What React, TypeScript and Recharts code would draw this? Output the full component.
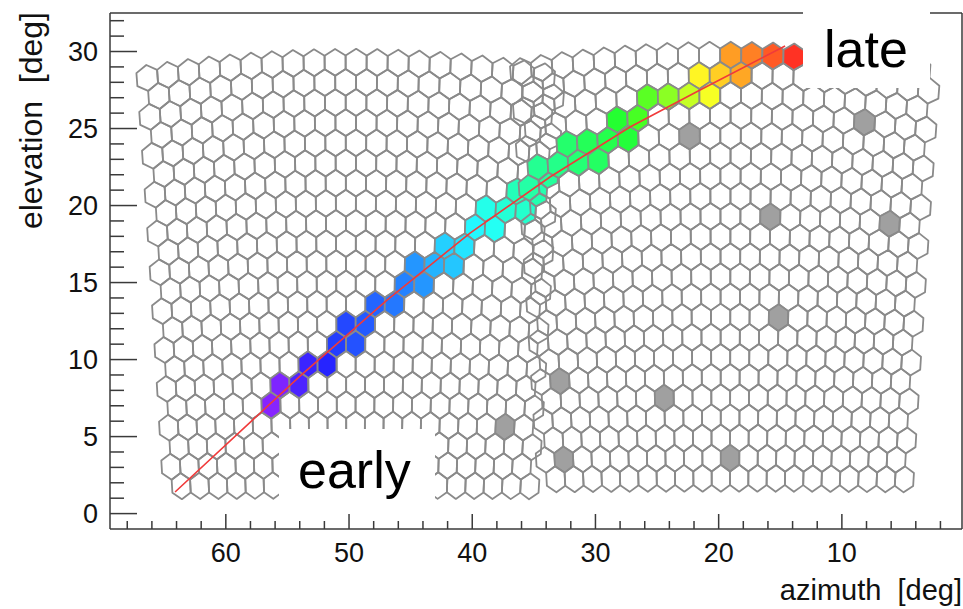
import React from "react";
import { ScatterChart, Scatter, XAxis, YAxis } from "recharts";

// camera pointing [deg] (left bay, right bay)
const cameraAz = [49.85, 19.45];
const cameraEl = [15.57, 16.03];
const cameraRows = 22;
const cameraCols = 20;
const colPitch = 1.53;
const rowPitch = 1.308;

// pixels on the track: [row, col, time]
const leftHits = [
  [17, 5, 1], [16, 6, 2], [16, 7, 7], [15, 7, 9], [15, 8, 11],
  [14, 9, 14], [14, 10, 16], [13, 9, 15], [13, 10, 17],
  [12, 11, 18], [12, 12, 20], [11, 12, 21], [11, 13, 23],
  [10, 13, 23], [10, 14, 26], [10, 15, 28], [9, 14, 29], [9, 15, 31],
  [8, 16, 33], [8, 17, 35], [7, 16, 36], [7, 17, 38], [7, 18, 39],
  [6, 18, 41], [6, 19, 42], [5, 19, 44],
];
const rightHits = [
  [6, 0, 43], [5, 0, 45], [5, 1, 46], [5, 2, 48], [5, 3, 50],
  [4, 2, 49], [4, 3, 51], [4, 4, 52], [4, 5, 54], [3, 4, 55], [3, 5, 60],
  [2, 6, 62], [2, 7, 67], [2, 8, 73], [2, 9, 78],
  [1, 8, 80], [1, 9, 84], [1, 10, 88],
  [0, 10, 89], [0, 11, 92], [0, 12, 96], [0, 13, 100],
];
// isolated pixels off the track: [row, col]
const leftNoise = [[18, 18]];
const rightNoise = [[16, 1], [20, 1], [17, 6], [4, 8], [20, 10], [8, 12], [13, 12], [3, 16], [8, 18]];

// fitted track
const trackAz = [64.12, 53.98, 46.92, 40.18, 33.69, 27.19, 21.51, 14.61];
const trackEl = [1.4, 8.93, 13.86, 18.21, 21.85, 25.1, 27.5, 30.36];

const azTicks = [2, 4, 6, 8, 10, 12, 14, 16, 18, 20, 22, 24, 26, 28, 30, 32, 34, 36, 38, 40, 42, 44, 46, 48, 50, 52, 54, 56, 58, 60, 62, 64, 66, 68];
const elTicks = [0, 1, 2, 3, 4, 5, 6, 7, 8, 9, 10, 11, 12, 13, 14, 15, 16, 17, 18, 19, 20, 21, 22, 23, 24, 25, 26, 27, 28, 29, 30, 31, 32];

const W = 963;
const H = 609;
const PLOT = { left: 110, top: 13, right: 962, bottom: 529 };
const AZ_MIN = 0.25;
const AZ_MAX = 69.4;
const EL_MIN = -1;
const EL_MAX = 32.5;
const PX_AZ = (PLOT.right - PLOT.left) / (AZ_MAX - AZ_MIN);
const PX_EL = (PLOT.bottom - PLOT.top) / (EL_MAX - EL_MIN);

const FONT = '"Liberation Sans", Arial, Helvetica, sans-serif';
const AXIS = "#3a3a3a";
const EDGE = "#8a8a8a";
const NOISE = "#a0a0a0";
const T_MAX = 100;
const timeColor = (t: number) => `hsl(${(270 - (t / T_MAX) * 266).toFixed(1)}, 100%, 57%)`;

const RAD = Math.PI / 180;
// camera tangent-plane angles (a to the left, b up) -> sky az/el
function toSky(az0: number, el0: number, a: number, b: number) {
  const ta = Math.tan(a * RAD);
  const tb = Math.tan(b * RAD);
  const ce = Math.cos(el0 * RAD);
  const se = Math.sin(el0 * RAD);
  const n = Math.sqrt(1 + ta * ta + tb * tb);
  return {
    az: az0 + Math.atan2(ta, ce - tb * se) / RAD,
    el: Math.asin((se + tb * ce) / n) / RAD,
  };
}

const HEX = [[0, 2 / 3], [0.5, 1 / 3], [0.5, -1 / 3], [0, -2 / 3], [-0.5, -1 / 3], [-0.5, 1 / 3]];

function buildCamera(cam: number, hits: number[][], noise: number[][]) {
  const hitTime = new Map(hits.map(([r, c, t]) => [`${r}-${c}`, t]));
  const noiseSet = new Set(noise.map(([r, c]) => `${r}-${c}`));
  const cells = [];
  for (let r = 0; r < cameraRows; r++) {
    for (let c = 0; c < cameraCols; c++) {
      const b = ((cameraRows - 1) / 2 - r) * rowPitch;
      const a = ((cameraCols - 1) / 2 - c) * colPitch + (r % 2 === 0 ? colPitch / 4 : -colPitch / 4);
      const p = toSky(cameraAz[cam], cameraEl[cam], a, b);
      const verts = HEX.map(([u, v]) => {
        const q = toSky(cameraAz[cam], cameraEl[cam], a + u * colPitch, b + v * rowPitch);
        return [q.az - p.az, q.el - p.el];
      });
      const key = `${r}-${c}`;
      const fill = hitTime.has(key) ? timeColor(hitTime.get(key) as number) : noiseSet.has(key) ? NOISE : "none";
      cells.push({ az: p.az, el: p.el, verts, fill });
    }
  }
  return cells;
}

const leftCells = buildCamera(0, leftHits, leftNoise);
const rightCells = buildCamera(1, rightHits, rightNoise);
const trackPoints = trackAz.map((az, i) => ({ az, el: trackEl[i] }));

const HexShape = (props: any) => {
  const { cx, cy, payload } = props;
  if (cx == null || cy == null) return <g />;
  const pts = payload.verts
    .map(([da, de]: number[]) => `${(cx - da * PX_AZ).toFixed(2)},${(cy - de * PX_EL).toFixed(2)}`)
    .join(" ");
  return <polygon points={pts} fill={payload.fill} stroke={EDGE} strokeWidth={1.8} strokeLinejoin="round" />;
};

const AzTick = (props: any) => {
  const { x, y, payload } = props;
  const major = payload.value % 10 === 0;
  return (
    <g>
      <line x1={x} x2={x} y1={y} y2={y - (major ? 15 : 8)} stroke={AXIS} strokeWidth={1.5} />
      {major && (
        <text x={x} y={y + 33} textAnchor="middle" fontSize={27} fontFamily={FONT} fill="#111">
          {payload.value}
        </text>
      )}
    </g>
  );
};

const ElTick = (props: any) => {
  const { x, y, payload } = props;
  const major = payload.value % 5 === 0;
  return (
    <g>
      <line x1={x} x2={x + (major ? 27 : 14)} y1={y} y2={y} stroke={AXIS} strokeWidth={1.5} />
      {major && (
        <text x={x - 12} y={y + 9.5} textAnchor="end" fontSize={27} fontFamily={FONT} fill="#111">
          {payload.value}
        </text>
      )}
    </g>
  );
};

export default function App() {
  return (
    <div style={{ position: "absolute", left: 0, top: 0, width: W, height: H, background: "#fff" }}>
      <ScatterChart width={W} height={H} margin={{ top: PLOT.top, right: W - PLOT.right, bottom: 0, left: 0 }}>
        <XAxis
          type="number"
          dataKey="az"
          domain={[AZ_MIN, AZ_MAX]}
          allowDataOverflow
          reversed
          ticks={azTicks}
          interval={0}
          height={H - PLOT.bottom}
          tickSize={0}
          tickMargin={0}
          tickLine={false}
          axisLine={{ stroke: AXIS, strokeWidth: 1.5 }}
          tick={<AzTick />}
        />
        <YAxis
          type="number"
          dataKey="el"
          domain={[EL_MIN, EL_MAX]}
          allowDataOverflow
          ticks={elTicks}
          interval={0}
          width={PLOT.left}
          tickSize={0}
          tickMargin={0}
          tickLine={false}
          axisLine={{ stroke: AXIS, strokeWidth: 1.5 }}
          tick={<ElTick />}
        />
        <Scatter data={leftCells} shape={HexShape} isAnimationActive={false} />
        <Scatter data={rightCells} shape={HexShape} isAnimationActive={false} />
        <Scatter
          data={trackPoints}
          line={{ stroke: "#f03a3a", strokeWidth: 1.6 }}
          lineType="joint"
          shape={() => <g />}
          isAnimationActive={false}
        />
      </ScatterChart>
      <svg width={W} height={H} style={{ position: "absolute", left: 0, top: 0, pointerEvents: "none" }}>
        <line x1={PLOT.left} x2={PLOT.right} y1={PLOT.top} y2={PLOT.top} stroke={AXIS} strokeWidth={1.5} />
        <line x1={PLOT.right} x2={PLOT.right} y1={PLOT.top} y2={PLOT.bottom} stroke={AXIS} strokeWidth={1.5} />
        <rect x={803} y={0} width={127} height={88} fill="#fff" />
        <text x={824} y={67} fontSize={52} fontFamily={FONT} fill="#000">late</text>
        <rect x={279} y={429} width={156} height={76} fill="#fff" />
        <text x={298} y={488} fontSize={52} fontFamily={FONT} fill="#000">early</text>
        <text x={962} y={600} textAnchor="end" fontSize={29} fontFamily={FONT} fill="#111" style={{ whiteSpace: "pre" }}>
          {"azimuth  [deg]"}
        </text>
        <text
          x={42}
          y={12}
          textAnchor="end"
          transform="rotate(-90, 42, 12)"
          fontSize={32}
          fontFamily={FONT}
          fill="#111"
          style={{ whiteSpace: "pre" }}
        >
          {"elevation  [deg]"}
        </text>
      </svg>
    </div>
  );
}
